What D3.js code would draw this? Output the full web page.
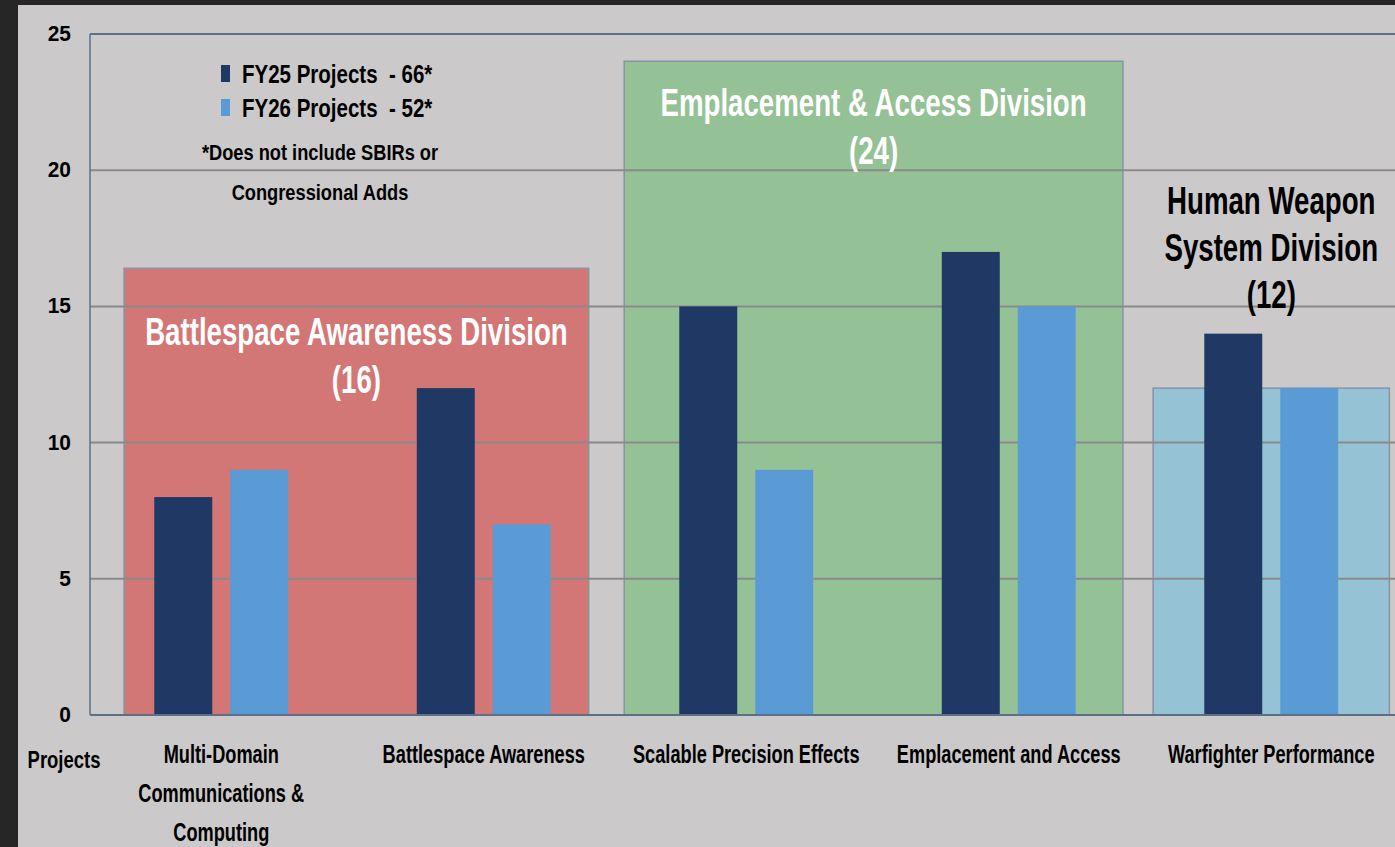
<!DOCTYPE html>
<html>
<head>
<meta charset="utf-8">
<script src="https://cdn.jsdelivr.net/npm/d3@7"></script>
<style>
    html, body { margin: 0; padding: 0; background: #262626; }
    svg { display: block; }
    text { font-family: "Liberation Sans Narrow", "Arial Narrow", "Liberation Sans", sans-serif; font-weight: bold; white-space: pre; }
</style>
</head>
<body>
<div id="chart"></div>
<script>
// categories are split into lines with "|"
const categories = [
    "Multi-Domain|Communications &|Computing",
    "Battlespace Awareness",
    "Scalable Precision Effects",
    "Emplacement and Access",
    "Warfighter Performance"
];
const seriesNames = ["FY25 Projects", "FY26 Projects"];
const seriesTotals = ["66*", "52*"];
const fy25 = [8, 12, 15, 17, 14];
const fy26 = [9, 7, 9, 15, 12];
const yTicks = [0, 5, 10, 15, 20, 25];

// background division boxes: span in category units, height in projects
const divisionNames = ["Battlespace Awareness Division", "Emplacement & Access Division", "Human Weapon|System Division"];
const divisionCounts = [16, 24, 12];
const divisionHeights = [16.4, 24, 12];
const divisionStart = [0.13, 2.035, 4.05];
const divisionEnd = [1.9, 3.935, 4.95];

const footnote = ["*Does not include SBIRs or", "Congressional Adds"];

const W = 1395, H = 847;
const margin = { top: 34, left: 90, bottom: 132 };
const plotRight = 1402.5;
const plotH = H - margin.top - margin.bottom;

const colors = { fy25: "#1f3864", fy26: "#5b9bd5" };
const divisionFill = ["#d27775", "#95c196", "#95c3d5"];
const divisionText = ["#ffffff", "#ffffff", "#000000"];
// first baseline of each division title, in y units
const divisionTitleY = [13.6, 22.0, 18.4];

// font size and horizontal squeeze per kind of text
const fonts = {
    title: [38, 0.728],
    category: [25, 0.728],
    axisName: [24, 0.77],
    tick: [22, 0.95],
    legend: [25, 0.82],
    note: [22, 0.83]
};

const svg = d3.select("#chart").append("svg")
    .attr("width", W)
    .attr("height", H);

svg.append("rect")
    .attr("x", 18).attr("y", 5)
    .attr("width", W - 18).attr("height", H - 5)
    .attr("fill", "#cbc9ca");

const x = d3.scaleBand()
    .domain(categories)
    .range([margin.left, plotRight])
    .padding(0);

const xUnit = d3.scaleLinear()
    .domain([0, categories.length])
    .range([margin.left, plotRight]);

const xInner = d3.scaleBand()
    .domain(seriesNames)
    .range([0, x.bandwidth()])
    .paddingInner(0.237)
    .paddingOuter(0.846);

const y = d3.scaleLinear()
    .domain([0, 25])
    .range([margin.top + plotH, margin.top]);

function label(parent, px, py, str, kind, anchor, fill) {
    const [size, sx] = fonts[kind];
    return parent.append("g")
        .attr("transform", `translate(${px},${py}) scale(${sx},1)`)
        .append("text")
        .attr("text-anchor", anchor)
        .attr("font-size", size)
        .attr("fill", fill || "#000")
        .text(str);
}

// division boxes
const divisions = divisionNames.map((name, i) => ({
    name, count: divisionCounts[i], h: divisionHeights[i],
    x0: divisionStart[i], x1: divisionEnd[i], i
}));

svg.append("g").selectAll("rect")
    .data(divisions)
    .join("rect")
    .attr("x", d => xUnit(d.x0))
    .attr("width", d => xUnit(d.x1) - xUnit(d.x0))
    .attr("y", d => y(d.h))
    .attr("height", d => y(0) - y(d.h))
    .attr("fill", d => divisionFill[d.i])
    .attr("stroke", "#8595a4")
    .attr("stroke-width", 1.5);

// gridlines
const grid = svg.append("g");
grid.selectAll("line")
    .data(yTicks.filter(t => t > 0 && t < 25))
    .join("line")
    .attr("x1", margin.left).attr("x2", W)
    .attr("y1", d => y(d)).attr("y2", d => y(d))
    .attr("stroke", "#8a8a8a")
    .attr("stroke-width", 2);

grid.append("line")
    .attr("x1", margin.left).attr("x2", W)
    .attr("y1", y(25)).attr("y2", y(25))
    .attr("stroke", "#5b7085").attr("stroke-width", 2);

// bars
const rows = categories.map((c, i) => ({ c, vals: [fy25[i], fy26[i]] }));
const barGroups = svg.append("g").selectAll("g")
    .data(rows)
    .join("g")
    .attr("transform", d => `translate(${x(d.c)},0)`);

barGroups.selectAll("rect")
    .data(d => d.vals.map((v, k) => ({ s: seriesNames[k], v, k })))
    .join("rect")
    .attr("x", d => xInner(d.s))
    .attr("width", xInner.bandwidth())
    .attr("y", d => y(d.v))
    .attr("height", d => y(0) - y(d.v))
    .attr("fill", d => d.k === 0 ? colors.fy25 : colors.fy26);

// axes lines
svg.append("line")
    .attr("x1", margin.left).attr("x2", margin.left)
    .attr("y1", y(25)).attr("y2", y(0))
    .attr("stroke", "#5b7085").attr("stroke-width", 1.5);
svg.append("line")
    .attr("x1", margin.left).attr("x2", W)
    .attr("y1", y(0)).attr("y2", y(0))
    .attr("stroke", "#5b7085").attr("stroke-width", 2);

// y tick labels
yTicks.forEach(t => label(svg, 71, y(t) + 7, String(t), "tick", "end"));

// x category labels
label(svg, 64, 768, "Projects", "axisName", "middle");
categories.forEach(c => {
    const cx = x(c) + x.bandwidth() / 2;
    c.split("|").forEach((line, j) => label(svg, cx, 763 + j * 39, line, "category", "middle"));
});

// division titles
divisions.forEach(d => {
    const cx = (xUnit(d.x0) + xUnit(d.x1)) / 2;
    const lines = d.name.split("|").concat([`(${d.count})`]);
    const gap = lines.length > 2 ? 47 : 48;
    lines.forEach((line, j) =>
        label(svg, cx, y(divisionTitleY[d.i]) + j * gap, line, "title", "middle", divisionText[d.i]));
});

// legend
const legend = svg.append("g");
seriesNames.forEach((s, k) => {
    const ly = 83 + k * 34;
    legend.append("rect")
        .attr("x", 221).attr("y", ly - 18)
        .attr("width", 9).attr("height", 17)
        .attr("fill", k === 0 ? colors.fy25 : colors.fy26);
    label(legend, 242, ly, `${s}  - ${seriesTotals[k]}`, "legend", "start");
});
footnote.forEach((f, j) => label(legend, 320, 160 + j * 40, f, "note", "middle"));
</script>
</body>
</html>
